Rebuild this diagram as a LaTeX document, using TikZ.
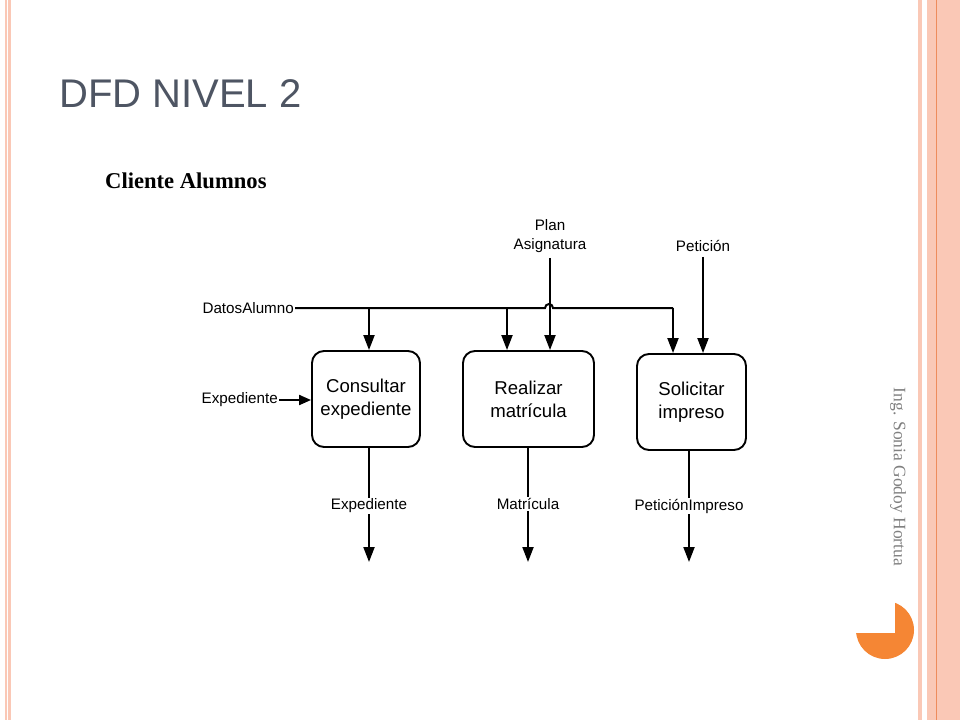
\documentclass[tikz,border=0pt]{standalone}
\usepackage{fontspec}
\setmainfont{Liberation Serif}
\setsansfont{Liberation Sans}
\usetikzlibrary{arrows.meta}
\definecolor{salmon}{RGB}{250,200,182}
\definecolor{salmonline}{RGB}{238,140,92}
\definecolor{titlegray}{RGB}{78,85,99}
\definecolor{dotorange}{RGB}{245,134,52}

\begin{document}
\begin{tikzpicture}[x=1pt,y=-1pt,
    proc/.style={draw,line width=1.9pt,rounded corners=12pt,minimum width=108pt,minimum height=96pt,align=center,font=\fontsize{18.6}{23}\selectfont\sffamily},
    lbl/.style={font=\fontsize{15.2}{19}\selectfont\sffamily,inner sep=1pt,align=center},
    wire/.style={line width=2pt},
    flow/.style={line width=2pt,-{Triangle[length=15pt,width=11pt]}}]
        %background
        \fill[white] (0,0) rectangle (960,720);
        \useasboundingbox (0,0) rectangle (960,720);
        \fill[salmon] (5,0) rectangle (11,720);
        \draw[white,line width=1pt] (7.5,0) -- (7.5,720);
        \fill[salmon] (918,0) rectangle (922,720);
        \fill[salmon] (927,0) rectangle (960,720);
        \draw[salmonline,line width=1pt] (936.5,0) -- (936.5,720);
        \fill[dotorange] (885,630) circle (29pt);
        \fill[white] (850,595) rectangle (895,633);
        \node[rotate=-90,font=\fontsize{17.5}{20}\selectfont\rmfamily,text=black!50] (autor) at (898,477) {Ing. Sonia Godoy Hortua};
        %titles
        \node[anchor=base west,inner sep=0pt,font=\fontsize{40}{48}\selectfont\sffamily,text=titlegray] (title) at (59,107) {DFD NIVEL 2};
        \node[anchor=base west,inner sep=0pt,font=\fontsize{22.6}{26}\selectfont\bfseries] (cliente) at (105,188) {Cliente Alumnos};
        %nodes
        \node[proc] (consultar) at (366,399) {Consultar\\expediente};
        \node[proc,minimum width=131pt] (realizar) at (528.5,399) {Realizar\\matrícula};
        \node[proc,minimum width=109pt] (solicitar) at (691.5,402) {Solicitar\\impreso};
        \node[lbl,anchor=east] (datos) at (295,308) {DatosAlumno};
        \node[lbl,anchor=east] (expin) at (279,400) {Expediente};
        \node[lbl] (plan) at (550,236) {Plan\\Asignatura};
        \node[lbl] (peticion) at (703,246) {Petición};
        \node[lbl] (expout) at (369,506) {Expediente};
        \node[lbl] (matricula) at (528,504) {Matrícula};
        \node[lbl] (petimp) at (689,506) {PeticiónImpreso};
        \coordinate (b1) at (369,308);
        \coordinate (b2) at (507,308);
        \coordinate (hopL) at (545,308);
        \coordinate (turn) at (673,308);
        \coordinate (expend) at (369,562);
        \coordinate (matend) at (528,562);
        \coordinate (petend) at (689,562);
        %edges
        \draw[wire] (datos.east) -- (hopL) arc[start angle=180,end angle=0,radius=4pt] -- (turn);
        \draw[flow] (b1) -- (b1 |- consultar.north);
        \draw[flow] (b2) -- (b2 |- realizar.north);
        \draw[flow] (turn) -- (turn |- solicitar.north);
        \draw[flow] ([yshift=-4pt]plan.south) -- (plan.south |- realizar.north);
        \draw[flow] ([yshift=-4pt]peticion.south) -- (peticion.south |- solicitar.north);
        \draw[line width=2pt,-{Triangle[length=12pt,width=10pt]}] (expin.east) -- (expin.east -| consultar.west);
        \draw[wire] (expout |- consultar.south) -- (expout.north);
        \draw[flow] (expout.south) -- (expend);
        \draw[wire] (matricula |- realizar.south) -- (matricula.north);
        \draw[flow] (matricula.south) -- (matend);
        \draw[wire] (petimp |- solicitar.south) -- (petimp.north);
        \draw[flow] (petimp.south) -- (petend);
\end{tikzpicture}
\end{document}
